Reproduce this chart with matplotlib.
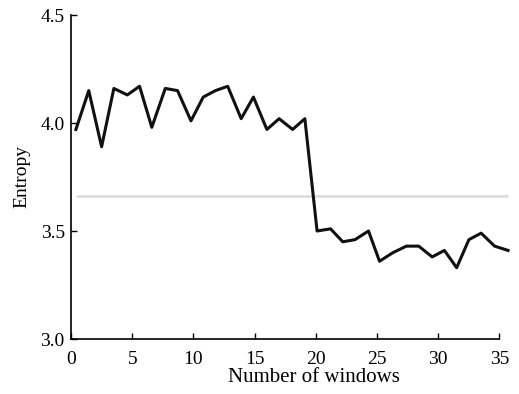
import matplotlib
matplotlib.use("Agg")
import matplotlib.pyplot as plt

windows = [0.4, 1.45, 2.5, 3.5, 4.6, 5.6, 6.6, 7.7, 8.7, 9.8, 10.8, 11.8, 12.8,
           13.9, 14.9, 16.0, 17.0, 18.1, 19.1, 20.1, 21.2, 22.2, 23.2, 24.3,
           25.2, 26.3, 27.4, 28.4, 29.5, 30.5, 31.5, 32.5, 33.5, 34.6, 35.7]
entropy = [3.97, 4.15, 3.89, 4.16, 4.13, 4.17, 3.98, 4.16, 4.15, 4.01, 4.12,
           4.15, 4.17, 4.02, 4.12, 3.97, 4.02, 3.97, 4.02,
           3.50, 3.51, 3.45, 3.46, 3.50, 3.36, 3.40, 3.43, 3.43, 3.38, 3.41,
           3.33, 3.46, 3.49, 3.43, 3.41]
threshold = 3.663
xticks = [0, 5, 10, 15, 20, 25, 30, 35]
yticks = [3.0, 3.5, 4.0, 4.5]

plt.rcParams['font.family'] = ['Liberation Serif', 'DejaVu Serif']

fig = plt.figure(figsize=(5.19, 3.94), dpi=100)
ax = fig.add_axes([71/519, (394-339)/394, (499.5-71)/519, (339-15)/394])

ax.plot([windows[0], windows[-1]], [threshold, threshold], color='#dcdcdc',
        lw=1.8, solid_capstyle='butt', clip_on=False, zorder=1)
ax.plot(windows, entropy, color='#111111', lw=2.2, clip_on=False, zorder=2)

ax.set_xlim(0, 35)
ax.set_ylim(3.0, 4.5)
ax.set_xticks(xticks)
ax.set_yticks(yticks)
ax.set_yticklabels([f"{v:.1f}" for v in yticks])
for s in ['top', 'right']:
    ax.spines[s].set_visible(False)
for s in ['left', 'bottom']:
    ax.spines[s].set_linewidth(1.2)
ax.tick_params(direction='in', length=4, width=1.0, labelsize=14)
ax.tick_params(axis='x', pad=9)
ax.tick_params(axis='y', pad=4.5)
ax.set_xlabel('Number of windows', fontsize=15)
ax.set_ylabel('Entropy', fontsize=14)
ax.xaxis.set_label_coords(0.567, (339 - 368) / 324, ax.transAxes)
ax.xaxis.label.set_va('top')
ax.yaxis.set_label_coords((22 - 71) / 428.5, 0.5, ax.transAxes)
ax.yaxis.label.set_va('center')

fig.savefig('out.png', dpi=100)
